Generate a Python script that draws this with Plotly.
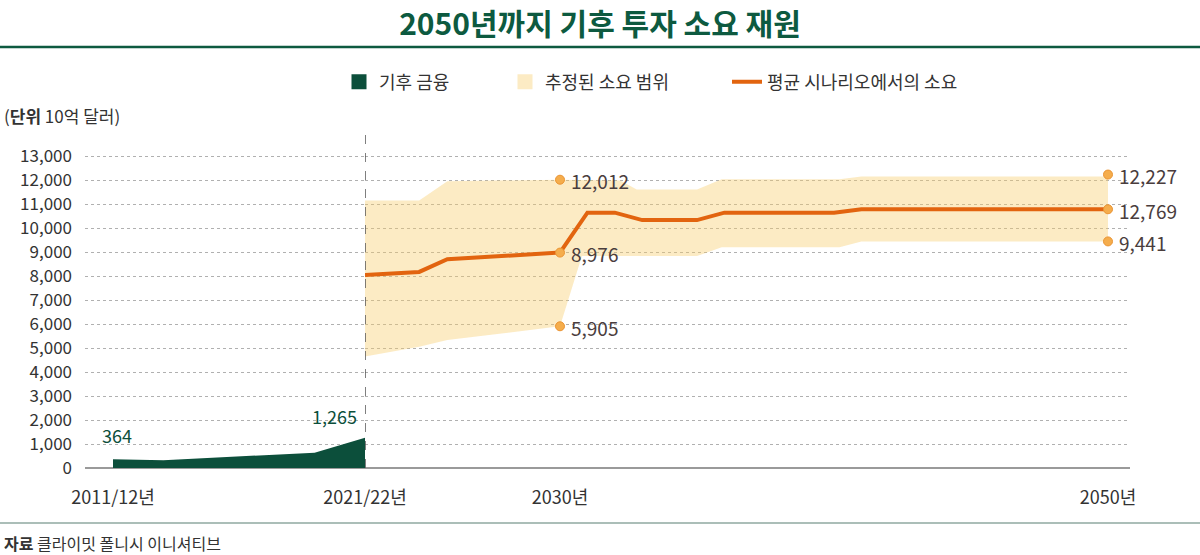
import plotly.graph_objects as go

# ---------------- data ----------------
# climate finance (historic), x = start year of period
finance_years = [2011, 2013, 2019, 2021]
finance_vals = [364, 320, 640, 1265]

# estimated range of needs, 2021/22 -> 2030
range_a_years = [2021, 2023.5, 2024.8, 2030]
range_a_upper = [11150, 11150, 11950, 12012]
range_a_lower = [4650, 5050, 5330, 5905]

# estimated range of needs, 2030 -> 2050
range_b_upper_years = [2030, 2032.2, 2032.8, 2035, 2035.9, 2040.2, 2041, 2050]
range_b_upper = [12012, 11980, 11600, 11600, 12030, 12030, 12150, 12150]
range_b_lower_years = [2030, 2030.8, 2035, 2035.9, 2040.2, 2041, 2050]
range_b_lower = [5905, 8830, 8830, 9200, 9200, 9441, 9441]

# average scenario
avg_a_years = [2021, 2023.5, 2024.8, 2030]
avg_a_vals = [8040, 8170, 8700, 8976]
avg_b_years = [2030, 2031, 2032, 2033, 2035, 2036, 2040, 2041, 2050]
avg_b_vals = [8976, 10640, 10640, 10330, 10330, 10640, 10640, 10780, 10780]

# labelled points
point_years = [2030, 2030, 2030, 2050, 2050, 2050]
point_vals = [12012, 8976, 5905, 12227, 10780, 9441]
point_texts = ["12,012", "8,976", "5,905", "12,227", "12,769", "9,441"]

y_ticks = list(range(0, 14000, 1000))

# ---------------- styling ----------------
FONT = "Noto Sans CJK KR"
GREEN = "#0c4f3b"
TITLE_GREEN = "#0d5a40"
ORANGE = "#e2640f"
BAND = "rgba(247,204,108,0.40)"
TXT = "#333333"
VAL = "#4a3d3d"

L, R, T, B = 85, 70, 127, 87
W, H = 1200, 555
PW = W - L - R
PH = H - T - B


def px2paper_x(p):
    return (p - L) / PW


def px2paper_y(p):
    return (H - B - p) / PH


fig = go.Figure()

# climate finance area
fig.add_trace(go.Scatter(
    x=finance_years, y=finance_vals, mode="lines", fill="tozeroy",
    line=dict(color=GREEN, width=0), fillcolor=GREEN,
    xaxis="x", yaxis="y", showlegend=False, hoverinfo="skip"))

# range bands
fig.add_trace(go.Scatter(
    x=range_a_years + range_a_years[::-1],
    y=range_a_lower + range_a_upper[::-1],
    fill="toself", fillcolor=BAND, line=dict(width=0), mode="lines",
    xaxis="x2", yaxis="y", showlegend=False, hoverinfo="skip"))
fig.add_trace(go.Scatter(
    x=range_b_lower_years + range_b_upper_years[::-1],
    y=range_b_lower + range_b_upper[::-1],
    fill="toself", fillcolor=BAND, line=dict(width=0), mode="lines",
    xaxis="x3", yaxis="y", showlegend=False, hoverinfo="skip"))

# average scenario line
fig.add_trace(go.Scatter(
    x=avg_a_years, y=avg_a_vals, mode="lines",
    line=dict(color=ORANGE, width=4), xaxis="x2", yaxis="y",
    showlegend=False, hoverinfo="skip"))
fig.add_trace(go.Scatter(
    x=avg_b_years, y=avg_b_vals, mode="lines",
    line=dict(color=ORANGE, width=4), xaxis="x3", yaxis="y",
    showlegend=False, hoverinfo="skip"))

# labelled points
fig.add_trace(go.Scatter(
    x=point_years, y=point_vals, mode="markers",
    marker=dict(size=9, color="#f5ad4c", line=dict(color="#ea9433", width=1)),
    cliponaxis=False, xaxis="x3", yaxis="y", showlegend=False, hoverinfo="skip"))
for px_, py_, pt_ in zip(point_years, point_vals, point_texts):
    fig.add_annotation(x=px_, y=py_, xref="x3", yref="y", text=pt_, showarrow=False,
                       xanchor="left", yanchor="middle", xshift=9, yshift=-1,
                       font=dict(family=FONT, size=19, color=VAL))

# legend entries
fig.add_trace(go.Scatter(
    x=[None], y=[None], mode="markers", name="기후 금융",
    marker=dict(symbol="square", size=15, color=GREEN), legend="legend"))
fig.add_trace(go.Scatter(
    x=[None], y=[None], mode="markers", name="추정된 소요 범위",
    marker=dict(symbol="square", size=15, color="#fcebc4"), legend="legend2"))
fig.add_trace(go.Scatter(
    x=[None], y=[None], mode="lines", name="평균 시나리오에서의 소요",
    line=dict(color=ORANGE, width=4), legend="legend3"))

# finance labels
fig.add_annotation(x=finance_years[0], y=finance_vals[0], xref="x", yref="y",
                   text="364", showarrow=False, yshift=24, xshift=4,
                   font=dict(family=FONT, size=18, color=GREEN))
fig.add_annotation(x=finance_years[-1], y=finance_vals[-1], xref="x", yref="y",
                   text="1,265", showarrow=False, yshift=22, xshift=-6, xanchor="right",
                   font=dict(family=FONT, size=18, color=GREEN))

# dashed divider at 2021/22
fig.add_shape(type="line", xref="x2", yref="y domain", x0=2021, x1=2021, y0=0, y1=1,
              line=dict(color="#555555", width=1.5, dash="dash"))

# title rule, source rule
fig.add_shape(type="line", xref="paper", yref="paper",
              x0=px2paper_x(0), x1=px2paper_x(W), y0=px2paper_y(47), y1=px2paper_y(47),
              line=dict(color=TITLE_GREEN, width=2.5))
fig.add_shape(type="line", xref="paper", yref="paper",
              x0=px2paper_x(0), x1=px2paper_x(W), y0=px2paper_y(523), y1=px2paper_y(523),
              line=dict(color="#8fa8a0", width=1.5))

# unit label & source
fig.add_annotation(xref="paper", yref="paper", x=px2paper_x(2), y=px2paper_y(115),
                   xanchor="left", yanchor="middle", showarrow=False,
                   text="(<b>단위</b> 10억 달러)", font=dict(family=FONT, size=17, color=TXT))
fig.add_annotation(xref="paper", yref="paper", x=px2paper_x(2), y=px2paper_y(543),
                   xanchor="left", yanchor="middle", showarrow=False,
                   text="<b>자료</b> 클라이밋 폴니시 이니셔티브", font=dict(family=FONT, size=16, color=TXT))

# axes domains (px breakpoints: 85 | 365 | 560 | 1130)
d1 = px2paper_x(365)
d2 = px2paper_x(560)

xcommon = dict(showgrid=False, zeroline=False, showline=False, ticks="",
               tickfont=dict(family=FONT, size=18, color=TXT), anchor="y",
               ticklabelstandoff=17, fixedrange=True)

legend_common = dict(orientation="h", yanchor="middle", xanchor="left",
                     font=dict(family=FONT, size=18, color=TXT),
                     bgcolor="rgba(0,0,0,0)", itemwidth=30)

fig.update_layout(
    width=W, height=H, autosize=False,
    margin=dict(l=L, r=R, t=T, b=B, autoexpand=False),
    paper_bgcolor="white", plot_bgcolor="white",
    font=dict(family=FONT, color=TXT),
    title=dict(text="<b>2050년까지 기후 투자 소요 재원</b>", xref="container", x=0.5,
               xanchor="center", y=1 - 24 / H, yanchor="middle",
               font=dict(family=FONT, size=30, color=TITLE_GREEN)),
    xaxis=dict(domain=[0, d1], range=[2011 - 28 / 25.2, 2021],
               tickvals=[2011], ticktext=["2011/12년"], **xcommon),
    xaxis2=dict(domain=[d1, d2], range=[2021, 2030],
                tickvals=[2021], ticktext=["2021/22년"], **xcommon),
    xaxis3=dict(domain=[d2, 1], range=[2030, 2050 + 22 / 27.4],
                tickvals=[2030, 2050], ticktext=["2030년", "2050년"], **xcommon),
    yaxis=dict(range=[0, PH / 24 * 1000], tickvals=y_ticks, tickformat=",d",
               showgrid=True, gridcolor="#b0b0b0", gridwidth=1, griddash="dot",
               zeroline=True, zerolinecolor="#9a9a9a", zerolinewidth=2,
               showline=False, ticks="", ticklabelstandoff=12,
               tickfont=dict(family=FONT, size=17, color=TXT), fixedrange=True),
    legend=dict(x=px2paper_x(339), y=px2paper_y(82), **legend_common),
    legend2=dict(x=px2paper_x(505), y=px2paper_y(82), **legend_common),
    legend3=dict(x=px2paper_x(727), y=px2paper_y(82), **legend_common),
)

fig.write_html(
    "out.html",
    config={"displayModeBar": False, "staticPlot": True},
    post_script="document.body.style.margin='0';document.body.style.padding='0';",
)
